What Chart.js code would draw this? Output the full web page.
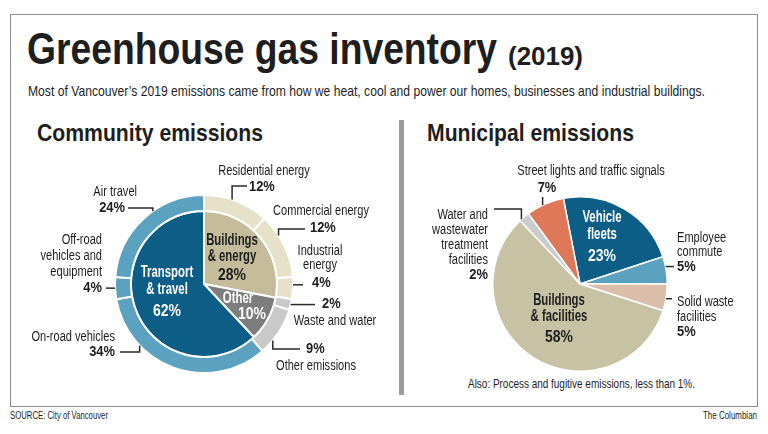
<!DOCTYPE html>
<html>
<head>
<meta charset="utf-8">
<script src="https://cdn.jsdelivr.net/npm/chart.js@4.4.1/dist/chart.umd.min.js"></script>
<style>
    body { margin: 0; width: 768px; height: 434px; background: #fff; position: relative; overflow: hidden;
           font-family: "Liberation Sans", Arial, sans-serif; color: #1e1e1e; }
    .abs { position: absolute; white-space: nowrap; line-height: 1; transform-origin: left top; }
    #frame { position: absolute; left: 10px; top: 14px; width: 746px; height: 391px; border: 1.5px solid #8c8c8c; }
    #divider { position: absolute; left: 399px; top: 120px; width: 5px; height: 275px; background: #9c9c9c; }
    canvas { position: absolute; }
</style>
</head>
<body>
<div id="frame"></div>
<div class="abs fit" data-w="470" style="left:27px; top:27px; font-size:44px; font-weight:bold;">Greenhouse gas inventory</div>
<div class="abs fit" data-w="75" style="left:508px; top:43px; font-size:26px; font-weight:bold;">(2019)</div>
<div class="abs fit" data-w="677" style="left:28px; top:83px; font-size:15px;">Most of Vancouver’s 2019 emissions came from how we heat, cool and power our homes, businesses and industrial buildings.</div>
<div class="abs fit" data-w="226" style="left:37px; top:121px; font-size:24px; font-weight:bold;">Community emissions</div>
<div class="abs fit" data-w="207" style="left:427px; top:121px; font-size:24px; font-weight:bold;">Municipal emissions</div>
<div id="divider"></div>
<div class="abs fit" data-w="227" style="left:468px; top:377px; font-size:13px;">Also: Process and fugitive emissions, less than 1%.</div>
<div class="abs fit" data-w="98" style="left:10px; top:411px; font-size:10px;">SOURCE: City of Vancouver</div>
<div class="abs fit" data-w="54" style="left:703px; top:411px; font-size:10px;">The Columbian</div>

<canvas id="community" width="385" height="300" style="left:10px; top:100px;"></canvas>
<canvas id="municipal" width="353" height="300" style="left:405px; top:100px;"></canvas>

<script>
// community emissions: outer ring (detail) and inner pie (sector)
const ringCategories = ['Residential energy', 'Commercial energy', 'Industrial energy', 'Waste and water',
    'Other emissions', 'On-road vehicles', 'Off-road vehicles and equipment', 'Air travel'];
const ringValues = [12, 12, 4, 2, 9, 34, 4, 24];
const coreCategories = ['Buildings & energy', 'Other', 'Transport & travel'];
const coreValues = [28, 10, 62];

// municipal emissions
const municipalCategories = ['Vehicle fleets', 'Employee commute', 'Solid waste facilities',
    'Buildings & facilities', 'Water and wastewater treatment facilities', 'Street lights and traffic signals'];
const municipalValues = [23, 5, 5, 58, 2, 7];

const ringColors = ['#e6e1c8', '#e6e1c8', '#e6e1c8', '#c9c9c9', '#c9c9c9', '#5aa2bf', '#5aa2bf', '#5aa2bf'];
const coreColors = ['#c4bc9b', '#7d7d7d', '#0d5e86'];
const municipalColors = ['#0d5e86', '#5aa2bf', '#dbbfab', '#c8c2a4', '#cccccc', '#df7859'];

const FONT = '"Liberation Sans", Arial, sans-serif';
const DARK = '#1e1e1e';

// callouts: leader from arc edge (frac along the arc), optional vertical to elbowY, then horizontal to endX
// text offsets are relative to the pie centre, {v} is replaced by the slice value
const communityCallouts = [
    { index: 0, frac: 0.43, elbowY: -98, endX: 43, texts: [
        { t: 'Residential energy', x: 60, y: -113, align: 'center' },
        { t: '{v}', x: 45, y: -97, align: 'left', bold: true }] },
    { index: 1, frac: 0.33, elbowY: -55, endX: 101, texts: [
        { t: 'Commercial energy', x: 117, y: -73, align: 'center' },
        { t: '{v}', x: 106, y: -56, align: 'left', bold: true }] },
    { index: 2, frac: 0.35, endX: 99, texts: [
        { t: 'Industrial', x: 116, y: -33, align: 'center' },
        { t: 'energy', x: 116, y: -19, align: 'center' },
        { t: '{v}', x: 108, y: -1, align: 'left', bold: true }] },
    { index: 3, frac: 0.5, endX: 111, texts: [
        { t: '{v}', x: 118, y: 20, align: 'left', bold: true },
        { t: 'Waste and water', x: 131, y: 37, align: 'center' }] },
    { index: 4, frac: 0.7, elbowY: 65, endX: 96, texts: [
        { t: '{v}', x: 102, y: 65, align: 'left', bold: true },
        { t: 'Other emissions', x: 112, y: 82, align: 'center' }] },
    { index: 5, frac: 0.72, elbowY: 68, endX: -84, texts: [
        { t: 'On-road vehicles', x: -89, y: 53, align: 'right' },
        { t: '{v}', x: -89, y: 68, align: 'right', bold: true }] },
    { index: 6, frac: 0.5, endX: -98, texts: [
        { t: 'Off-road', x: -102, y: -44, align: 'right' },
        { t: 'vehicles and', x: -102, y: -28, align: 'right' },
        { t: 'equipment', x: -102, y: -12, align: 'right' },
        { t: '{v}', x: -102, y: 4, align: 'right', bold: true }] },
    { index: 7, frac: 0.59, elbowY: -76, endX: -76, texts: [
        { t: 'Air travel', x: -67, y: -92, align: 'right' },
        { t: '{v}', x: -79, y: -76, align: 'right', bold: true }] }
];
const communityInner = [
    { index: 2, color: '#fff', lines: [['Transport', -37, -11], ['& travel', -37, 6], ['{v}', -37, 27]] },
    { index: 0, color: DARK, lines: [['Buildings', 28, -43], ['& energy', 28, -27], ['{v}', 28, -9]] },
    { index: 1, color: '#fff', lines: [['Other', 34, 15], ['{v}', 48, 30]] }
];

const municipalCallouts = [
    { index: 1, frac: 0.37, endX: 94, texts: [
        { t: 'Employee', x: 97, y: -46, align: 'left' },
        { t: 'commute', x: 97, y: -32, align: 'left' },
        { t: '{v}', x: 97, y: -17, align: 'left', bold: true }] },
    { index: 2, frac: 0.55, endX: 92, texts: [
        { t: 'Solid waste', x: 97, y: 18, align: 'left' },
        { t: 'facilities', x: 97, y: 33, align: 'left' },
        { t: '{v}', x: 97, y: 48, align: 'left', bold: true }] },
    { index: 4, frac: 0.17, elbowY: -75, endX: -86, texts: [
        { t: 'Water and', x: -92, y: -69, align: 'right' },
        { t: 'wastewater', x: -92, y: -54, align: 'right' },
        { t: 'treatment', x: -92, y: -39, align: 'right' },
        { t: 'facilities', x: -92, y: -24, align: 'right' },
        { t: '{v}', x: -92, y: -9, align: 'right', bold: true }] },
    { index: 5, frac: 0.43, elbowY: -87, texts: [
        { t: 'Street lights and traffic signals', x: 11, y: -113, align: 'center' },
        { t: '{v}', x: -33, y: -96, align: 'center', bold: true }] }
];
const municipalInner = [
    { index: 0, color: '#fff', lines: [['Vehicle', 22, -66], ['fleets', 22, -49], ['{v}', 22, -28]] },
    { index: 3, color: DARK, lines: [['Buildings', -21, 17], ['& facilities', -21, 33], ['{v}', -21, 53]] }
];

function pct(v) {
    return v + '%';
}

// the original uses a condensed face, so squeeze the text horizontally
function squeezedText(ctx, text, x, y, squeeze) {
    const w = ctx.measureText(text).width;
    ctx.fillText(text, x, y, w * squeeze);
}

function drawCallouts(chart, datasetIndex, callouts) {
    const ctx = chart.ctx;
    const meta = chart.getDatasetMeta(datasetIndex);
    const values = chart.data.datasets[datasetIndex].data;
    ctx.save();
    ctx.strokeStyle = '#2a2a2a';
    ctx.lineWidth = 1.5;
    ctx.fillStyle = DARK;
    ctx.textBaseline = 'middle';
    callouts.forEach(c => {
        const arc = meta.data[c.index];
        const p = arc.getProps(['x', 'y', 'startAngle', 'endAngle', 'outerRadius'], true);
        const a = p.startAngle + c.frac * (p.endAngle - p.startAngle);
        let px = p.x + Math.cos(a) * p.outerRadius;
        let py = p.y + Math.sin(a) * p.outerRadius;
        ctx.beginPath();
        ctx.moveTo(px, py);
        if (c.elbowY !== undefined) {
            py = p.y + c.elbowY;
            ctx.lineTo(px, py);
        }
        if (c.endX !== undefined) {
            ctx.lineTo(p.x + c.endX, py);
        }
        ctx.stroke();
        c.texts.forEach(tx => {
            ctx.font = tx.bold ? 'bold 15px ' + FONT : '14px ' + FONT;
            ctx.textAlign = tx.align;
            squeezedText(ctx, tx.t.replace('{v}', pct(values[c.index])), p.x + tx.x, p.y + tx.y, tx.bold ? 0.86 : 0.79);
        });
    });
    ctx.restore();
}

function drawInner(chart, datasetIndex, items) {
    const ctx = chart.ctx;
    const meta = chart.getDatasetMeta(datasetIndex);
    const values = chart.data.datasets[datasetIndex].data;
    ctx.save();
    ctx.textAlign = 'center';
    ctx.textBaseline = 'middle';
    items.forEach(item => {
        const arc = meta.data[item.index];
        ctx.fillStyle = item.color;
        item.lines.forEach(([t, x, y]) => {
            const isValue = t === '{v}';
            ctx.font = 'bold ' + (isValue ? 17 : 16) + 'px ' + FONT;
            squeezedText(ctx, t.replace('{v}', pct(values[item.index])), arc.x + x, arc.y + y, isValue ? 0.82 : 0.71);
        });
    });
    ctx.restore();
}

function fitText() {
    document.querySelectorAll('.fit').forEach(el => {
        const w = el.getBoundingClientRect().width;
        const target = parseFloat(el.dataset.w);
        if (w > 0) el.style.transform = 'scaleX(' + (target / w) + ')';
    });
}

document.addEventListener('DOMContentLoaded', () => {
    fitText();

    const baseOptions = {
        responsive: false,
        animation: false,
        events: [],
        plugins: { legend: { display: false }, tooltip: { enabled: false } }
    };

    new Chart(document.getElementById('community'), {
        type: 'doughnut',
        data: {
            labels: ringCategories,
            datasets: [{
                label: 'Detail',
                data: ringValues,
                backgroundColor: ringColors,
                borderColor: '#fff',
                borderWidth: 2,
                weight: 16
            }, {
                label: 'Sector',
                data: coreValues,
                backgroundColor: coreColors,
                borderColor: '#fff',
                borderWidth: 2,
                weight: 73
            }]
        },
        options: {
            ...baseOptions,
            cutout: 0,
            rotation: 0,
            layout: { padding: { left: 104, right: 101, top: 94, bottom: 26 } }
        },
        plugins: [{
            id: 'communityLabels',
            afterDraw(chart) {
                drawInner(chart, 1, communityInner);
                drawCallouts(chart, 0, communityCallouts);
            }
        }]
    });

    new Chart(document.getElementById('municipal'), {
        type: 'pie',
        data: {
            labels: municipalCategories,
            datasets: [{
                label: 'Municipal',
                data: municipalValues,
                backgroundColor: municipalColors,
                borderColor: '#fff',
                borderWidth: 1.5
            }]
        },
        options: {
            ...baseOptions,
            rotation: -11,
            layout: { padding: { left: 87, right: 90, top: 96, bottom: 28 } }
        },
        plugins: [{
            id: 'municipalLabels',
            afterDraw(chart) {
                drawInner(chart, 0, municipalInner);
                drawCallouts(chart, 0, municipalCallouts);
            }
        }]
    });
});
</script>
</body>
</html>
